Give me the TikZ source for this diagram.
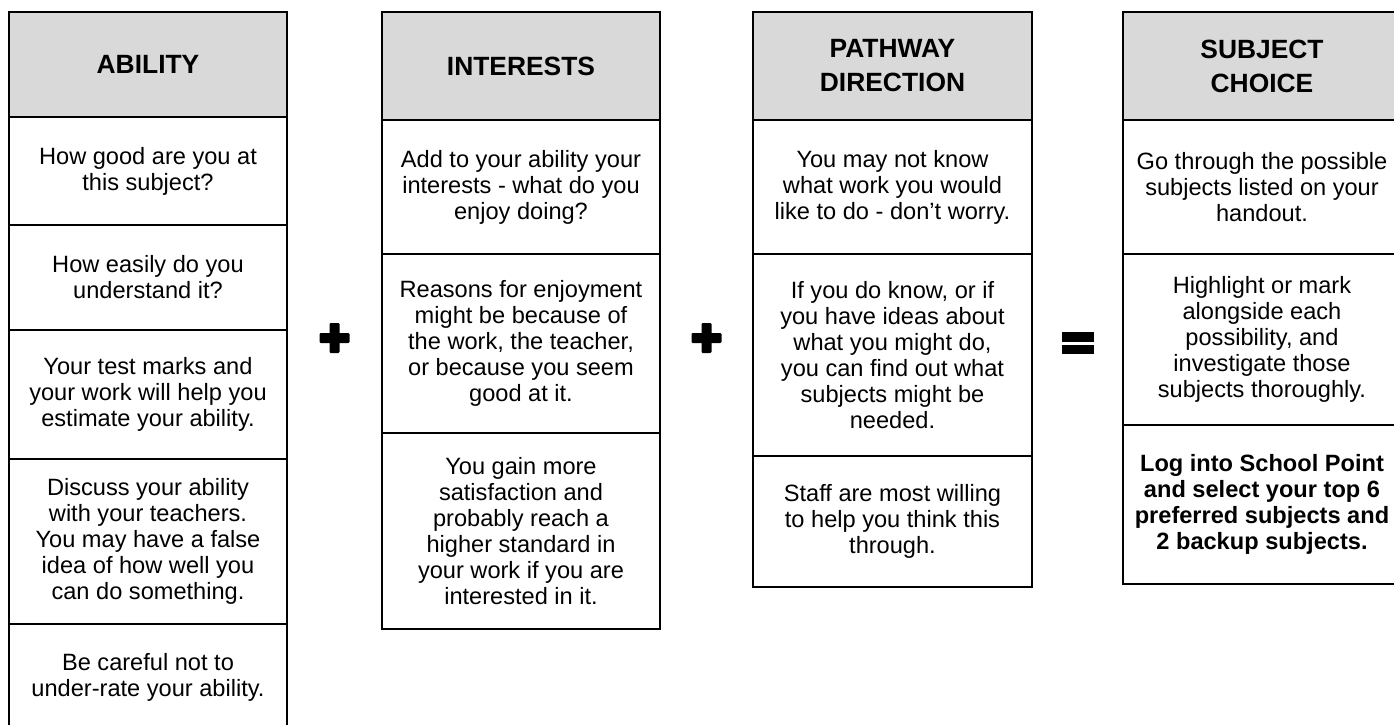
\documentclass[tikz,border=0pt]{standalone}
\usepackage{fontspec}
\setmainfont{Liberation Sans}
\usetikzlibrary{positioning}
\definecolor{headgray}{HTML}{D9D9D9}

\begin{document}
\begin{tikzpicture}[x=0.5pt,y=-0.5pt,
        cell/.style={draw,line width=1.2pt,minimum width=139pt,inner sep=0pt,outer sep=0pt,
                     align=center,font=\fontsize{11.8}{13}\selectfont},
        head/.style={cell,fill=headgray,minimum height=54pt,
                     font=\fontsize{13.2}{17}\selectfont\bfseries}]
                            % Page
                            \useasboundingbox (0,0) rectangle (1394,724);
                            \clip (0,0) rectangle (1394,724);

                            % Ability
                            \node[head,anchor=north west,minimum height=52.5pt] (ab0) at (9,12) {ABILITY};
                            \node[cell,below=0pt of ab0,minimum height=54pt] (ab1) {How good are you at\\this subject?};
                            \node[cell,below=0pt of ab1,minimum height=52.5pt] (ab2) {How easily do you\\understand it?};
                            \node[cell,below=0pt of ab2,minimum height=64.5pt] (ab3) {Your test marks and\\your work will help you\\estimate your ability.};
                            \node[cell,below=0pt of ab3,minimum height=82.5pt] (ab4) {Discuss your ability\\with your teachers.\\You may have a false\\idea of how well you\\can do something.};
                            \node[cell,below=0pt of ab4,minimum height=53pt] (ab5) {Be careful not to\\under-rate your ability.};

                            % Interests
                            \node[head,anchor=north west] (in0) at (382,12) {INTERESTS};
                            \node[cell,below=0pt of in0,minimum height=67pt] (in1) {Add to your ability your\\interests - what do you\\enjoy doing?};
                            \node[cell,below=0pt of in1,minimum height=89.5pt] (in2) {Reasons for enjoyment\\might be because of\\the work, the teacher,\\or because you seem\\good at it.};
                            \node[cell,below=0pt of in2,minimum height=98pt] (in3) {You gain more\\satisfaction and\\probably reach a\\higher standard in\\your work if you are\\interested in it.};

                            % Pathway direction
                            \node[head,anchor=north west,minimum width=139.5pt] (pd0) at (753,12) {PATHWAY\\DIRECTION};
                            \node[cell,below=0pt of pd0,minimum width=139.5pt,minimum height=67pt] (pd1) {You may not know\\what work you would\\like to do - don't worry.};
                            \node[cell,below=0pt of pd1,minimum width=139.5pt,minimum height=101pt] (pd2) {If you do know, or if\\you have ideas about\\what you might do,\\you can find out what\\subjects might be\\needed.};
                            \node[cell,below=0pt of pd2,minimum width=139.5pt,minimum height=65.5pt] (pd3) {Staff are most willing\\to help you think this\\through.};

                            % Subject choice
                            \node[head,anchor=north west] (sc0) at (1123,12) {SUBJECT\\CHOICE};
                            \node[cell,below=0pt of sc0,minimum height=67pt] (sc1) {Go through the possible\\subjects listed on your\\handout.};
                            \node[cell,below=0pt of sc1,minimum height=85.5pt] (sc2) {Highlight or mark\\alongside each\\possibility, and\\investigate those\\subjects thoroughly.};
                            \node[cell,below=0pt of sc2,minimum height=79.5pt,font=\fontsize{11.8}{13}\selectfont\bfseries] (sc3) {Log into School Point\\and select your top 6\\preferred subjects and\\2 backup subjects.};

                            % Plus and equals signs
                            \foreach \px in {334.5,706.5}{
                                \fill[rounded corners=0.6pt] (\px,338) ++(-15,-5) rectangle ++(30,10);
                                \fill[rounded corners=0.6pt] (\px,338) ++(-5,-15) rectangle ++(10,30);
                            }
                            \fill (1077.5,343) ++(-16,-11) rectangle ++(32,9.5);
                            \fill (1077.5,343) ++(-16,1.5) rectangle ++(32,9.5);
\end{tikzpicture}
\end{document}
